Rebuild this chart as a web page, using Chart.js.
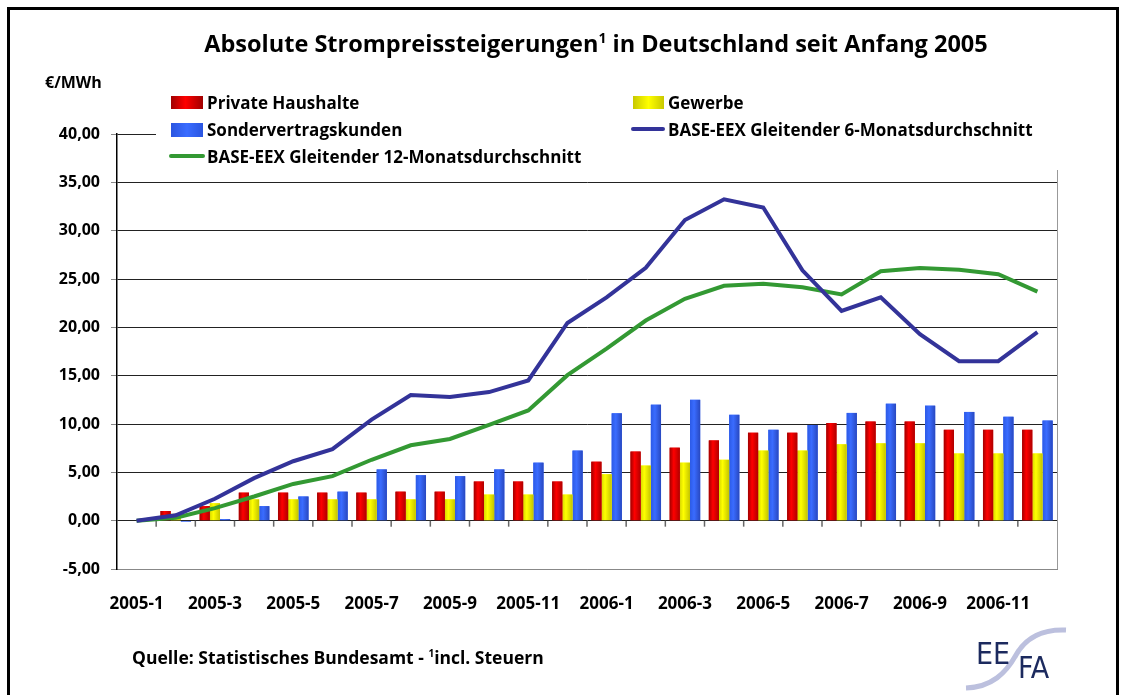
<!DOCTYPE html>
<html>
<head>
<meta charset="utf-8">
<script src="https://cdn.jsdelivr.net/npm/chart.js@4.4.0/dist/chart.umd.min.js"></script>
<style>
  body { margin: 0; background: #fff; font-family: "Open Sans", "DejaVu Sans", sans-serif; }
  #wrap { position: relative; width: 1124px; height: 695px; overflow: hidden; }
  #frame { position: absolute; left: 7px; top: 7px; width: 1106px; height: 760px; border: 3px solid #000; }
  canvas { position: absolute; left: 0; top: 0; }
  .t { position: absolute; font-weight: bold; color: #000; white-space: nowrap; line-height: 1; }
  .sw { position: absolute; }
  #legbox { position: absolute; left: 156px; top: 88px; width: 912px; height: 82px; background: #fff; }
</style>
</head>
<body>
<div id="wrap">
  <canvas id="chart" width="1124" height="695"></canvas>
  <div id="frame"></div>

  <div class="t" style="left:0;width:1192px;text-align:center;top:31px;font-size:23.5px;">Absolute Strompreissteigerungen<sup style="font-size:14px;">1</sup> in Deutschland seit Anfang 2005</div>
  <div class="t" style="left:45px;top:74px;font-size:16px;">€/MWh</div>

  <div id="legbox"></div>
  <div class="sw" style="left:171px;top:96px;width:32px;height:13px;background:linear-gradient(90deg,#a00000,#ff0000 45%,#a00000);"></div>
  <div class="t" style="left:207px;top:94px;font-size:17px;">Private Haushalte</div>
  <div class="sw" style="left:171px;top:123px;width:32px;height:14px;background:linear-gradient(90deg,#2a55e0,#3a6cff 50%,#2a55e0);"></div>
  <div class="t" style="left:207px;top:121px;font-size:17px;">Sondervertragskunden</div>
  <div class="sw" style="left:169px;top:154px;width:36px;height:4px;background:#339933;border-radius:2px;"></div>
  <div class="t" style="left:207px;top:148px;font-size:17px;">BASE-EEX Gleitender 12-Monatsdurchschnitt</div>
  <div class="sw" style="left:633px;top:96px;width:31px;height:13px;background:linear-gradient(90deg,#c8c800,#ffff00 50%,#c8c800);"></div>
  <div class="t" style="left:668px;top:94px;font-size:17px;">Gewerbe</div>
  <div class="sw" style="left:631px;top:127px;width:34px;height:4px;background:#333399;border-radius:2px;"></div>
  <div class="t" style="left:668px;top:121px;font-size:17px;">BASE-EEX Gleitender 6-Monatsdurchschnitt</div>

  <div class="t" style="left:132px;top:648px;font-size:17.5px;">Quelle: Statistisches Bundesamt - <sup style="font-size:10px;">1</sup>incl. Steuern</div>

  <svg style="position:absolute;left:950px;top:615px;" width="130" height="80">
    <path d="M116 15 C 92 14, 76 22, 66 40 C 56 58, 42 72, 16 73" stroke="#bcc0de" stroke-width="5" fill="none"/>
  </svg>
  <div class="t" style="left:976px;top:639px;font-size:30px;color:#1c2a5e;font-weight:normal;font-family:'DejaVu Sans Condensed','DejaVu Sans';">EE</div>
  <div class="t" style="left:1018px;top:653px;font-size:30px;color:#1c2a5e;font-weight:normal;font-family:'DejaVu Sans Condensed','DejaVu Sans';">FA</div>
</div>

<script>
// Monate (jeder zweite wird beschriftet)
const months = [
  "2005-1", "2005-2", "2005-3", "2005-4", "2005-5", "2005-6",
  "2005-7", "2005-8", "2005-9", "2005-10", "2005-11", "2005-12",
  "2006-1", "2006-2", "2006-3", "2006-4", "2006-5", "2006-6",
  "2006-7", "2006-8", "2006-9", "2006-10", "2006-11", "2006-12"
];

// Preissteigerungen in €/MWh
const privateHaushalte = [0, 1.0, 1.5, 2.9, 2.9, 2.9, 2.9, 3.0, 3.0, 4.05, 4.05, 4.05,
  6.1, 7.15, 7.55, 8.3, 9.1, 9.1, 10.1, 10.25, 10.25, 9.4, 9.4, 9.4];
const gewerbe = [0, 0.7, 1.8, 2.2, 2.2, 2.2, 2.2, 2.2, 2.2, 2.7, 2.7, 2.7,
  4.8, 5.7, 6.0, 6.3, 7.25, 7.25, 7.9, 8.0, 8.0, 6.95, 6.95, 6.95];
const sondervertragskunden = [0, -0.1, 0.15, 1.5, 2.5, 3.0, 5.3, 4.7, 4.6, 5.3, 6.0, 7.25,
  11.1, 12.0, 12.5, 10.95, 9.4, 9.9, 11.15, 12.1, 11.9, 11.25, 10.75, 10.35];
const eex6 = [0, 0.55, 2.27, 4.4, 6.15, 7.4, 10.45, 13.0, 12.8, 13.3, 14.5, 20.45,
  23.1, 26.15, 31.1, 33.25, 32.4, 25.9, 21.7, 23.1, 19.3, 16.5, 16.5, 19.5];
const eex12 = [0, 0.3, 1.3, 2.5, 3.8, 4.6, 6.3, 7.8, 8.45, 9.9, 11.4, 15.05,
  17.8, 20.7, 22.95, 24.3, 24.5, 24.15, 23.4, 25.8, 26.15, 25.95, 25.5, 23.7];

// Y-Achse
const yMin = -5, yMax = 40, yStep = 5;

// Balken mit Farbverlauf (Zylinder-Optik) übermalen
const shadeBars = {
  id: "shadeBars",
  afterDatasetDraw(chart, args) {
    const ds = chart.data.datasets[args.index];
    if (!ds.shades) return;
    const ctx = chart.ctx;
    ctx.save();
    args.meta.data.forEach(bar => {
      const p = bar.getProps(["x", "y", "base", "width"], true);
      const l = p.x - p.width / 2;
      const g = ctx.createLinearGradient(l, 0, l + p.width, 0);
      ds.shades.forEach(s => g.addColorStop(s[0], s[1]));
      ctx.fillStyle = g;
      ctx.fillRect(l, Math.min(p.y, p.base), p.width, Math.abs(p.base - p.y));
    });
    ctx.restore();
  }
};

// kleine Striche an der Nulllinie + rechter Rahmen
const axisExtras = {
  id: "axisExtras",
  beforeDatasetsDraw(chart) {
    const ctx = chart.ctx;
    const xs = chart.scales.x, ys = chart.scales.y;
    const y0 = ys.getPixelForValue(0);
    const step = (xs.right - xs.left) / months.length;
    ctx.save();
    ctx.strokeStyle = "#666";
    ctx.lineWidth = 1.5;
    for (let i = 1; i < months.length; i++) {
      const x = xs.left + i * step;
      ctx.beginPath();
      ctx.moveTo(x, y0);
      ctx.lineTo(x, y0 + 6);
      ctx.stroke();
    }
    ctx.strokeStyle = "#999";
    ctx.lineWidth = 1;
    ctx.beginPath();
    ctx.moveTo(chart.chartArea.right + 0.5, chart.chartArea.top);
    ctx.lineTo(chart.chartArea.right + 0.5, chart.chartArea.bottom);
    ctx.stroke();
    ctx.restore();
  }
};

new Chart(document.getElementById("chart"), {
  type: "bar",
  data: {
    labels: months,
    datasets: [
      {
        type: "line", label: "BASE-EEX Gleitender 6-Monatsdurchschnitt", data: eex6,
        borderColor: "#333399", borderWidth: 4, pointRadius: 0, tension: 0, order: 0
      },
      {
        type: "line", label: "BASE-EEX Gleitender 12-Monatsdurchschnitt", data: eex12,
        borderColor: "#339933", borderWidth: 4, pointRadius: 0, tension: 0, order: 0
      },
      {
        label: "Private Haushalte", data: privateHaushalte, backgroundColor: "#e00000",
        shades: [[0, "#a00000"], [0.4, "#ff0000"], [1, "#b00000"]], order: 1
      },
      {
        label: "Gewerbe", data: gewerbe, backgroundColor: "#ffff00",
        shades: [[0, "#d8d800"], [0.35, "#ffff00"], [1, "#c4c400"]], order: 1
      },
      {
        label: "Sondervertragskunden", data: sondervertragskunden, backgroundColor: "#3366ff",
        shades: [[0, "#2c5ae6"], [0.4, "#3a6cff"], [1, "#2848c0"]], order: 1
      }
    ]
  },
  options: {
    responsive: false,
    animation: false,
    categoryPercentage: 0.78,
    barPercentage: 1.0,
    layout: { padding: { left: 0, top: 134, right: 67, bottom: 0 } },
    plugins: { legend: { display: false }, tooltip: { enabled: false } },
    scales: {
      x: {
        grid: { display: false, drawTicks: false },
        border: { display: true, color: "#888", width: 1 },
        ticks: {
          autoSkip: false, maxRotation: 0, padding: 25, color: "#000",
          font: { family: "Open Sans", weight: "bold", size: 17 },
          callback: (v, i) => (i % 2 === 0 ? months[i] : "")
        },
        afterFit: s => { s.height = 126; }
      },
      y: {
        min: yMin, max: yMax,
        ticks: {
          stepSize: yStep, padding: 11, color: "#000",
          font: { family: "Open Sans", weight: "bold", size: 16 },
          callback: v => v.toFixed(2).replace(".", ",")
        },
        grid: {
          color: c => (c.tick && c.tick.value === yMin ? "#888" : "#222"),
          lineWidth: 1, tickColor: "#888", tickLength: 6
        },
        border: { display: true, color: "#000", width: 1.5 },
        afterFit: s => { s.width = 117; }
      }
    }
  },
  plugins: [shadeBars, axisExtras]
});
</script>
</body>
</html>
